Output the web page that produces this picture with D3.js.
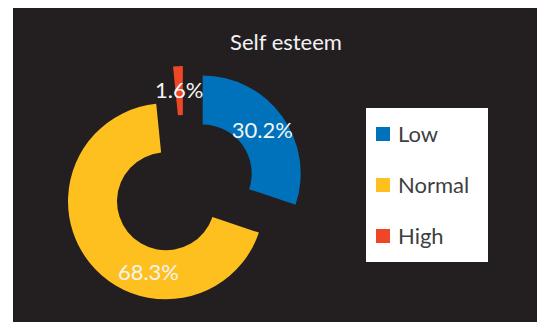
<!DOCTYPE html>
<html>
<head>
<meta charset="utf-8">
<script src="https://cdn.jsdelivr.net/npm/d3@7"></script>
<style>
  body { margin: 0; background: #fff; }
  svg { display: block; font-family: Lato, "Open Sans", sans-serif; }
</style>
</head>
<body>
<script>
const categories = ["Low", "Normal", "High"];
const values = [30.2, 68.3, 1.6];
const labels = ["30.2%", "68.3%", "1.6%"];
const colors = ["#0071bb", "#fec01e", "#ef4626"];
const title = "Self esteem";

const width = 537, height = 322;
const cx = 184, cy = 187;
const outer = 98, inner = 49;
const explode = 23;
// excel pushes the big slice's label round a bit
const labelShift = [0, -37.6, 0];

const svg = d3.select("body").append("svg")
  .attr("width", width)
  .attr("height", height);

svg.append("rect")
  .attr("x", 13).attr("y", 8)
  .attr("width", width - 13).attr("height", height - 8)
  .attr("fill", "#231f20");

svg.append("text")
  .attr("x", 286).attr("y", 50)
  .attr("text-anchor", "middle")
  .attr("fill", "#f2f2f2")
  .style("font-size", "22px")
  .text(title);

const pie = d3.pie().sort(null).value(d => d);
const arcs = pie(values);
const arc = d3.arc().innerRadius(inner).outerRadius(outer);

const g = svg.append("g").attr("transform", `translate(${cx},${cy})`);

const off = d => {
  const a = (d.startAngle + d.endAngle) / 2;
  return [Math.sin(a) * explode, -Math.cos(a) * explode];
};

g.selectAll("path")
  .data(arcs)
  .join("path")
  .attr("d", arc)
  .attr("fill", (d, i) => colors[i])
  .attr("transform", d => `translate(${off(d)})`);

g.selectAll("text")
  .data(arcs)
  .join("text")
  .attr("transform", (d, i) => {
    const [ox, oy] = off(d);
    const a = (d.startAngle + d.endAngle) / 2 + labelShift[i] * Math.PI / 180;
    const rr = (inner + outer) / 2;
    return `translate(${ox + Math.sin(a) * rr},${oy - Math.cos(a) * rr})`;
  })
  .attr("text-anchor", "middle")
  .attr("dy", "0.35em")
  .attr("fill", "#f4f4f4")
  .style("font-size", "22px")
  .text((d, i) => labels[i]);

// legend
const legend = svg.append("g");
legend.append("rect")
  .attr("x", 366).attr("y", 108)
  .attr("width", 122).attr("height", 154)
  .attr("fill", "#fff");

const ly = d3.scalePoint().domain(categories).range([134, 236]);

const item = legend.selectAll("g.item")
  .data(categories)
  .join("g")
  .attr("class", "item")
  .attr("transform", d => `translate(376,${ly(d)})`);

item.append("rect")
  .attr("y", -7).attr("width", 14).attr("height", 14)
  .attr("fill", (d, i) => colors[i]);

item.append("text")
  .attr("x", 22)
  .attr("dy", "0.35em")
  .attr("fill", "#404040")
  .style("font-size", "22px")
  .text(d => d);
</script>
</body>
</html>
